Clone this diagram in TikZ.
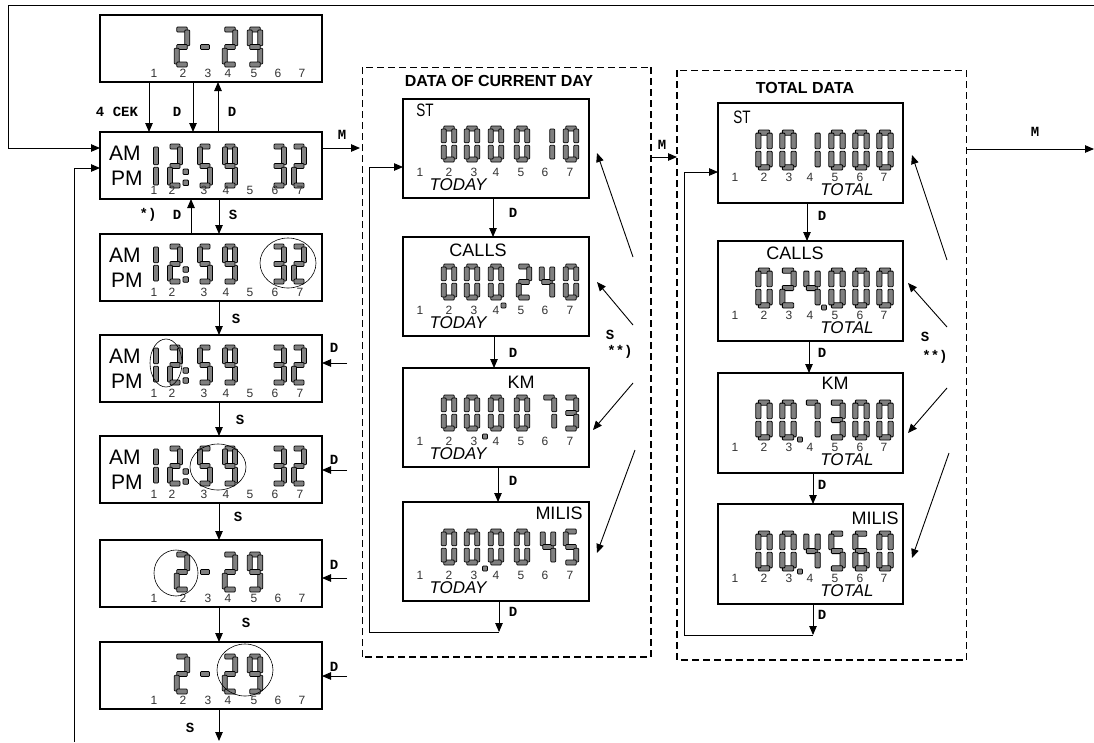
\documentclass[tikz,border=0pt]{standalone}
\usepackage{fontspec}
\setmainfont{Liberation Sans}
\newfontfamily\cour{Liberation Mono}
\usepackage{graphicx}
\usetikzlibrary{arrows.meta,calc}

\tikzset{
 lcdbox/.style={draw, line width=2.2pt, anchor=north west, inner sep=0pt, outer sep=0pt},
 lbox/.style={lcdbox, minimum width=222pt, minimum height=67pt},
 mbox/.style={lcdbox, minimum width=186pt, minimum height=99pt},
 rbox/.style={lcdbox, minimum width=185pt, minimum height=100pt},
 arr/.style={line width=0.9pt, -{Triangle[length=9pt,width=7.5pt]}},
 ln/.style={line width=0.9pt},
 klab/.style={font=\cour\bfseries\fontsize{14}{14}\selectfont, inner sep=0pt},
 sgm/.style={fill=black!50, draw=black, line width=0.8pt, rounded corners=0.9pt},
 plab/.style={font=\fontsize{12}{12}\selectfont, inner sep=0pt, text=black!80},
 ampm/.style={font=\fontsize{21}{21}\selectfont, inner sep=0pt, anchor=west},
 tagl/.style={font=\fontsize{18}{18}\selectfont, inner sep=0pt},
 ital/.style={font=\itshape\fontsize{17}{17}\selectfont, inner sep=0pt},
 ttl/.style={font=\bfseries\fontsize{16}{16}\selectfont, inner sep=0pt},
 elring/.style={draw, line width=0.6pt},
 dthin/.style={dash pattern=on 7pt off 4pt, line width=0.8pt},
 dthick/.style={dash pattern=on 7pt off 4pt, line width=1.6pt},
 dframe/.style={anchor=north west, inner sep=0pt, outer sep=0pt, minimum width=289pt, minimum height=590pt},
}

\newcommand\segA{\draw[sgm] ({-\sgW/2+\sgT*0.5},0) rectangle ({\sgW/2-\sgT*0.5},{\sgT});}
\newcommand\segB{\draw[sgm] ({\sgW/2-\sgT},{\sgT*0.6}) rectangle ({\sgW/2},{\sgH/2-\sgT*0.25});}
\newcommand\segC{\draw[sgm] ({\sgW/2-\sgT},{\sgH/2+\sgT*0.25}) rectangle ({\sgW/2},{\sgH-\sgT*0.6});}
\newcommand\segD{\draw[sgm] ({-\sgW/2+\sgT*0.5},{\sgH-\sgT}) rectangle ({\sgW/2-\sgT*0.5},{\sgH});}
\newcommand\segE{\draw[sgm] ({-\sgW/2},{\sgH/2+\sgT*0.25}) rectangle ({-\sgW/2+\sgT},{\sgH-\sgT*0.6});}
\newcommand\segF{\draw[sgm] ({-\sgW/2},{\sgT*0.6}) rectangle ({-\sgW/2+\sgT},{\sgH/2-\sgT*0.25});}
\newcommand\segG{\draw[sgm] ({-\sgW/2+\sgT*0.5},{\sgH/2-\sgT/2}) rectangle ({\sgW/2-\sgT*0.5},{\sgH/2+\sgT/2});}

\newcommand\lcddig[3]{\begin{scope}[shift={(#1,#2)}]%
\ifcase#3\relax \segA\segB\segC\segD\segE\segF
\or \segB\segC
\or \segA\segB\segG\segE\segD
\or \segA\segB\segG\segC\segD
\or \segF\segG\segB\segC
\or \segA\segF\segG\segC\segD
\or \segA\segF\segG\segE\segC\segD
\or \segA\segB\segC
\or \segA\segB\segC\segD\segE\segF\segG
\or \segA\segB\segC\segD\segF\segG
\fi\end{scope}}

\newcommand\poslab[3]{\foreach \xx [count=\ii] in {#3} {\node[plab] (#1n\ii) at (\xx,#2) {\ii};}}

% time box: name, top, digit top, digit height
\newcommand\timebox[4]{%
 \node[lbox] (#1) at (100,#2) {};
 \begin{scope}[shift={(100,#2)}]
  \node[ampm] (#1am) at (9,21) {AM};
  \node[ampm] (#1pm) at (11,46) {PM};
  \def\sgW{15}\def\sgH{#4}\def\sgT{5}
  \lcddig{51}{#3}{1}\lcddig{75}{#3}{2}\lcddig{105}{#3}{5}\lcddig{130}{#3}{9}\lcddig{179}{#3}{3}\lcddig{199}{#3}{2}
  \draw[sgm] (83,{#3+#4*0.57}) rectangle (88.5,{#3+#4*0.57+5.5});
  \draw[sgm] (83,{#3+#4*0.82}) rectangle (88.5,{#3+#4*0.82+5.5});
  \poslab{#1}{58}{54,72,104,126,150,175,200}
 \end{scope}}

% date box: name, top
\newcommand\datebox[2]{%
 \node[lbox] (#1) at (100,#2) {};
 \begin{scope}[shift={(100,#2)}]
  \def\sgW{15.5}\def\sgH{40}\def\sgT{5}
  \lcddig{82}{12}{2}\lcddig{130}{12}{2}\lcddig{155}{12}{9}
  \draw[sgm] (100.5,29.5) rectangle (109.5,34.5);
  \poslab{#1}{58}{54,83,108,128,154,178,202}
 \end{scope}}

% middle box: name, top, slot list
\newcommand\midbox[3]{%
 \node[mbox] (#1) at (403,#2) {};
 \begin{scope}[shift={(403,#2)}]
  \def\sgW{15.5}\def\sgH{36}\def\sgT{5}
  \foreach \cx/\v in {#3} {\lcddig{\cx}{27}{\v}}
  \poslab{#1}{73}{17,46,71,93,118,142,167}
  \node[ital] (#1d) at (55,86) {TODAY};
 \end{scope}}

% total box: name, top, slot list
\newcommand\totbox[3]{%
 \node[rbox] (#1) at (718,#2) {};
 \begin{scope}[shift={(718,#2)}]
  \def\sgW{16.5}\def\sgH{40}\def\sgT{5.2}
  \foreach \cx/\v in {#3} {\lcddig{\cx}{27}{\v}}
  \poslab{#1}{74}{17,46,71,92,117,142,166}
  \node[ital] (#1d) at (129,87) {TOTAL};
 \end{scope}}

\begin{document}
\begin{tikzpicture}[x=1pt,y=-1pt]
\useasboundingbox (0,0) rectangle (1094,742);
\fill[white] (0,0) rectangle (1094,742);

% ---------------- left column ----------------
\datebox{L1}{15}
\timebox{L2}{132}{12}{44}
\timebox{L3}{234}{10}{40}
\timebox{L4}{335}{10}{40}
\timebox{L5}{436}{10}{40}
\datebox{L6}{540}
\datebox{L7}{642}

\draw[elring] (288,263) ellipse [x radius=28pt, y radius=25pt];
\draw[elring] (166,363) ellipse [x radius=16pt, y radius=24pt];
\draw[elring] (218,467) ellipse [x radius=28pt, y radius=23pt];
\draw[elring] (176,573) ellipse [x radius=22pt, y radius=23pt];
\draw[elring] (245,670) ellipse [x radius=28pt, y radius=26pt];

% loops on the left
\coordinate (topR) at (1094,5);
\coordinate (topL) at (8,5);
\draw[arr] (topR) -- (topL) |- ([yshift=17.5pt]L2.west);
\coordinate (botL) at (74,742);
\draw[arr] (botL) |- ([yshift=-2.5pt]L2.west);

% L1 <-> L2
\draw[arr] ([xshift=49pt]L1.south west) -- ([xshift=49pt]L2.north west);
\draw[arr] ([xshift=93pt]L1.south west) -- ([xshift=93pt]L2.north west);
\draw[arr] ([xshift=118pt]L2.north west) -- ([xshift=118pt]L1.south west);
\node[klab] (k4cek) at (117,112) {4~CEK};
\node[klab] (kd1) at (177,112) {D};
\node[klab] (kd2) at (232,112) {D};

% L2 <-> L3
\draw[arr] ([xshift=91pt]L3.north west) -- ([xshift=91pt]L2.south west);
\draw[arr] ([xshift=119pt]L2.south west) -- ([xshift=119pt]L3.north west);
\node[klab] (kst) at (148,215) {*)};
\node[klab] (kd3) at (177,215) {D};
\node[klab] (ks1) at (233,215) {S};

% S chain
\draw[arr] ([xshift=119pt]L3.south west) -- ([xshift=119pt]L4.north west);
\node[klab] (ks2) at (236,319) {S};
\draw[arr] ([xshift=119pt]L4.south west) -- ([xshift=119pt]L5.north west);
\node[klab] (ks3) at (240,420) {S};
\draw[arr] ([xshift=119pt]L5.south west) -- ([xshift=119pt]L6.north west);
\node[klab] (ks4) at (238,517) {S};
\draw[arr] ([xshift=119pt]L6.south west) -- ([xshift=119pt]L7.north west);
\node[klab] (ks5) at (246,623) {S};
\coordinate (Lout) at (219,741);
\draw[arr] ([xshift=119pt]L7.south west) -- (Lout);
\node[klab] (ks6) at (190,728) {S};

% D arrows from the right
\coordinate (dL4) at (347,363);
\coordinate (dL5) at (347,470);
\coordinate (dL6) at (347,578);
\coordinate (dL7) at (347,676);
\draw[arr] (dL4) -- (dL4 -| L4.east);
\draw[arr] (dL5) -- (dL5 -| L5.east);
\draw[arr] (dL6) -- (dL6 -| L6.east);
\draw[arr] (dL7) -- (dL7 -| L7.east);
\node[klab] (kd4) at (334,348) {D};
\node[klab] (kd5) at (334,460) {D};
\node[klab] (kd6) at (334,565) {D};
\node[klab] (kd7) at (334,667) {D};

% M to middle
\coordinate (mIn) at (360,148);
\draw[arr] ([yshift=17.5pt]L2.east) -- (mIn);
\node[klab] (km1) at (342,135) {M};

% ---------------- middle frame ----------------
\node[dframe] (mid) at (362,67) {};
\draw[dthin] (mid.south west) |- (mid.north east);
\draw[dthick] (mid.north east) |- (mid.south west);
\node[ttl] (midT) at (499,80.5) {DATA OF CURRENT DAY};

\midbox{M1}{99}{46/0,69/0,93/0,119/0,144/1,168/0}
\midbox{M2}{237}{46/0,69/0,93/0,121/2,144/4,168/0}
\midbox{M3}{368}{46/0,69/0,93/0,119/0,146/7,168/3}
\midbox{M4}{502}{46/0,69/0,93/0,119/0,145/4,168/5}
\draw[sgm] (501,303) rectangle (506,308);
\draw[sgm] (482.5,434) rectangle (487.5,439);
\draw[sgm] (482.5,566) rectangle (487.5,571);
\node[tagl] (M1t) at (425,110) {\scalebox{0.75}[1]{ST}};
\node[tagl] (M2t) at (478,250) {CALLS};
\node[tagl] (M3t) at (521,382) {KM};
\node[tagl] (M4t) at (559,513) {MILIS};

\draw[arr] ([xshift=-3pt]M1.south) -- ([xshift=-3pt]M2.north);
\draw[arr] ([xshift=-2pt]M2.south) -- ([xshift=-2pt]M3.north);
\draw[arr] ([xshift=2pt]M3.south) -- ([xshift=2pt]M4.north);
\coordinate (mB) at (499,632);
\coordinate (mC) at (369,632);
\draw[arr] ([xshift=3pt]M4.south) -- (mB);
\draw[arr, line width=0.8pt] (mB) -- (mC) |- ([yshift=-18.5pt]M1.west);
\node[klab] (kmd1) at (513,213) {D};
\node[klab] (kmd2) at (513,353) {D};
\node[klab] (kmd3) at (513,481) {D};
\node[klab] (kmd4) at (513,612) {D};

\coordinate (sM1) at (633,257);
\coordinate (sM2) at (633,325);
\coordinate (sM3) at (633,383);
\coordinate (sM4) at (635,450);
\draw[arr] (sM1) -- ([xshift=8pt,yshift=-4.5pt]M1.east);
\draw[arr] (sM2) -- ([xshift=8pt,yshift=4.5pt]M2.east);
\draw[arr] (sM3) -- ([xshift=4pt,yshift=-12.5pt]M3.east);
\draw[arr] (sM4) -- ([xshift=8pt,yshift=-1.5pt]M4.east);
\node[klab] (kms) at (610,335) {S};
\node[klab] (kmss) at (620,352) {**)};

% M between frames
\coordinate (mOut) at (651,157);
\coordinate (tIn) at (677,157);
\draw[arr] (mOut) -- (tIn);
\node[klab] (km2) at (662,145) {M};

% ---------------- right frame ----------------
\node[dframe] (tot) at (677,70) {};
\draw[dthick] (tot.north west) |- (tot.south east);
\draw[dthin] (tot.south east) |- (tot.north west);
\node[ttl] (totT) at (805,88) {TOTAL DATA};

\totbox{R1}{103}{46/0,70/0,94/1,119/0,143/0,167/0}
\totbox{R2}{241}{46/0,70/2,94/4,119/0,143/0,167/0}
\totbox{R3}{373}{46/0,70/0,94/7,119/3,143/0,167/0}
\totbox{R4}{504}{46/0,70/0,94/4,119/5,143/6,167/0}
\draw[sgm] (821.5,305) rectangle (826.5,310);
\draw[sgm] (797.5,437) rectangle (802.5,442);
\draw[sgm] (797.5,569) rectangle (802.5,574);
\node[tagl] (R1t) at (742,117) {\scalebox{0.75}[1]{ST}};
\node[tagl] (R2t) at (795,253) {CALLS};
\node[tagl] (R3t) at (835,383) {KM};
\node[tagl] (R4t) at (875,518) {MILIS};

\draw[arr] ([xshift=-3.5pt]R1.south) -- ([xshift=-3.5pt]R2.north);
\draw[arr] ([xshift=-1.5pt]R2.south) -- ([xshift=-1.5pt]R3.north);
\draw[arr] ([xshift=2.5pt]R3.south) -- ([xshift=2.5pt]R4.north);
\coordinate (rB) at (813,635);
\coordinate (rC) at (684,635);
\draw[arr] ([xshift=2.5pt]R4.south) -- (rB);
\draw[arr, line width=0.8pt] (rB) -- (rC) |- ([yshift=-19pt]R1.west);
\node[klab] (krd1) at (822,216) {D};
\node[klab] (krd2) at (822,353) {D};
\node[klab] (krd3) at (822,485) {D};
\node[klab] (krd4) at (822,615) {D};

\coordinate (sR1) at (947,260);
\coordinate (sR2) at (947,327);
\coordinate (sR3) at (947,388);
\coordinate (sR4) at (949,453);
\draw[arr] (sR1) -- ([xshift=9pt,yshift=-2pt]R1.east);
\draw[arr] (sR2) -- ([xshift=5pt,yshift=8pt]R2.east);
\draw[arr] (sR3) -- ([xshift=5pt,yshift=-10pt]R3.east);
\draw[arr] (sR4) -- ([xshift=9pt,yshift=-4pt]R4.east);
\node[klab] (krs) at (925,337) {S};
\node[klab] (krss) at (935,357) {**)};

% M out to the right
\coordinate (tOut) at (966,149);
\coordinate (rEnd) at (1094,149);
\draw[arr] (tOut) -- (rEnd);
\node[klab] (km3) at (1035,132) {M};
\end{tikzpicture}
\end{document}
